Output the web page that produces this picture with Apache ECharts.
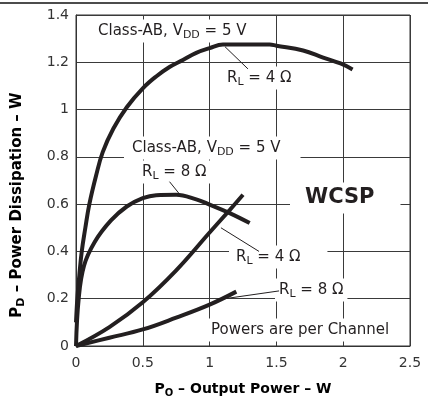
<!DOCTYPE html>
<html>
<head>
<meta charset="utf-8">
<script src="https://cdn.jsdelivr.net/npm/echarts@6/dist/echarts.min.js"></script>
<style>html,body{margin:0;padding:0;background:#fff}#c{width:428px;height:400px}</style>
</head>
<body>
<div id="c"></div>
<script>
// Tick values
const xTicks = [0, 0.5, 1, 1.5, 2, 2.5];
const yTicks = [0, 0.2, 0.4, 0.6, 0.8, 1, 1.2, 1.4];

// Class-AB, VDD = 5 V, RL = 4 ohm  [PO, PD]
const classAB4 = [[0,0.10],[0.01,0.2],[0.025,0.3],[0.043,0.4],[0.07,0.5],[0.1,0.6],[0.15,0.72],[0.2,0.82],[0.28,0.92],[0.38,1.01],[0.5,1.09],[0.6,1.14],[0.7,1.18],[0.8,1.21],[0.9,1.24],[1.0,1.26],[1.1,1.275],[1.45,1.275],[1.5,1.27],[1.7,1.25],[1.85,1.22],[1.98,1.195],[2.07,1.17]];
// Class-AB, VDD = 5 V, RL = 8 ohm
const classAB8 = [[0,0],[0.02,0.2],[0.06,0.34],[0.14,0.44],[0.26,0.53],[0.38,0.59],[0.5,0.625],[0.6,0.638],[0.75,0.64],[0.9,0.62],[1.0,0.598],[1.15,0.562],[1.3,0.52]];
// RL = 4 ohm (lower family)
const lower4 = [[0,0],[0.25,0.08],[0.5,0.185],[0.75,0.32],[1.0,0.48],[1.15,0.575],[1.25,0.64]];
// RL = 8 ohm (lower family)
const lower8 = [[0,0],[0.25,0.035],[0.5,0.07],[0.75,0.12],[1.0,0.175],[1.2,0.23]];

const FONT = 'DejaVu Sans';
const INK = '#231f20';
const rich = {
  m: {fontSize: 15, fontFamily: FONT, color: INK},
  s: {fontSize: 11, fontFamily: FONT, color: INK, padding: [8, 0, 0, 0]}
};
const richB = {
  m: {fontSize: 14, fontFamily: FONT, fontWeight: 'bold', color: INK},
  s: {fontSize: 10, fontFamily: FONT, fontWeight: 'bold', color: INK, padding: [8, 0, 0, 0]}
};
const richBY = {
  m: {fontSize: 15, fontFamily: FONT, fontWeight: 'bold', color: INK},
  s: {fontSize: 11, fontFamily: FONT, fontWeight: 'bold', color: INK, padding: [8, 0, 0, 0]}
};
function label(x, y, text, pad) {
  return {
    type: 'text', x: x, y: y, z: 1,
    style: {
      text: text, rich: rich, fill: INK, fontFamily: FONT, fontSize: 15,
      align: 'left', verticalAlign: 'middle',
      backgroundColor: '#fff', padding: pad || [2, 4, 2, 4]
    }
  };
}
const lineCommon = {type: 'line', showSymbol: false, smooth: 0.4,
  lineStyle: {color: INK, width: 4}, z: 3};

const chart = echarts.init(document.getElementById('c'), null, {renderer: 'canvas'});
chart.setOption({
  animation: false,
  backgroundColor: '#fff',
  grid: {left: 76, right: 18, top: 15, bottom: 54, show: true, borderColor: '#333', borderWidth: 1},
  xAxis: {
    type: 'value', min: xTicks[0], max: xTicks[xTicks.length - 1], interval: 0.5,
    axisLine: {show: true, lineStyle: {color: '#333', width: 1}},
    axisTick: {show: false},
    splitLine: {show: true, lineStyle: {color: '#3a3a3a', width: 1}},
    axisLabel: {margin: 10, color: '#333', fontFamily: FONT, fontSize: 14,
      formatter: v => String(v)}
  },
  yAxis: {
    type: 'value', min: yTicks[0], max: yTicks[yTicks.length - 1], interval: 0.2,
    axisLine: {show: true, lineStyle: {color: '#333', width: 1}},
    axisTick: {show: false},
    splitLine: {show: true, lineStyle: {color: '#3a3a3a', width: 1}},
    axisLabel: {margin: 7, color: '#333', fontFamily: FONT, fontSize: 14,
      formatter: v => String(+v.toFixed(1))}
  },
  series: [
    Object.assign({}, lineCommon, {name: 'AB4', data: classAB4,
      markLine: {silent: true, symbol: ['none', 'none'], animation: false,
        lineStyle: {color: INK, width: 1, type: 'solid'}, label: {show: false},
        emphasis: {disabled: true},
        data: [
          [{coord: [1.115, 1.266]}, {coord: [1.287, 1.172]}],
          [{coord: [0.70, 0.695]}, {coord: [0.78, 0.639]}],
          [{coord: [1.085, 0.50]}, {coord: [1.37, 0.40]}],
          [{coord: [1.10, 0.199]}, {coord: [1.52, 0.233]}]
        ]}}),
    Object.assign({}, lineCommon, {name: 'AB8', data: classAB8}),
    Object.assign({}, lineCommon, {name: 'L4', data: lower4}),
    Object.assign({}, lineCommon, {name: 'L8', data: lower8})
  ],
  graphic: [
    {type: 'line', z: 5, shape: {x1: 0, y1: 3, x2: 428, y2: 3}, style: {stroke: '#111', lineWidth: 1.5}},
    label(94, 31, '{m|Class-AB, V}{s|DD}{m| = 5 V}'),
    label(223, 78, '{m|R}{s|L}{m| = 4 Ω}'),
    label(124, 148, '{m|Class-AB, V}{s|DD}{m| = 5 V}', [2, 20, 2, 8]),
    label(138, 172, '{m|R}{s|L}{m| = 8 Ω}'),
    {type: 'text', x: 290, y: 198, z: 1,
      style: {text: 'WCSP', fill: INK, fontFamily: FONT, fontSize: 21, fontWeight: 'bold',
        align: 'left', verticalAlign: 'middle', backgroundColor: '#fff', padding: [5, 26, 5, 15]}},
    label(229, 257, '{m|R}{s|L}{m| = 4 Ω}', [2, 27, 2, 7]),
    label(275, 290, '{m|R}{s|L}{m| = 8 Ω}', [2, 4, 2, 4]),
    label(205, 330, '{m|Powers are per Channel}', [4, 6, 4, 6]),
    {type: 'text', x: 243, y: 389, z: 1,
      style: {text: '{m|P}{s|O}{m| – Output Power – W}', rich: richB, align: 'center', verticalAlign: 'middle'}},
    {type: 'text', x: 17, y: 205, z: 1, rotation: Math.PI / 2,
      style: {text: '{m|P}{s|D}{m| – Power Dissipation – W}', rich: richBY, align: 'center', verticalAlign: 'middle'}}
  ]
});
</script>
</body>
</html>
